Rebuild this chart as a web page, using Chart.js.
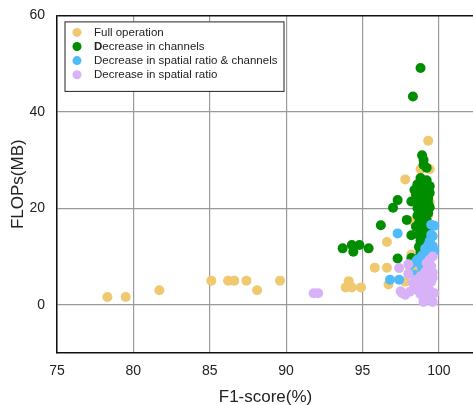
<!DOCTYPE html>
<html>
<head>
<meta charset="utf-8">
<script src="https://cdn.jsdelivr.net/npm/chart.js@4.4.1/dist/chart.umd.min.js"></script>
<style>
  html, body { margin: 0; padding: 0; background: #fff; overflow: hidden; }
  #wrap { width: 473px; height: 405px; position: relative; overflow: hidden; }
  #c { position: absolute; left: 0; top: -5px; }
</style>
</head>
<body>
<div id="wrap"><canvas id="c" width="479" height="413"></canvas></div>
<script>
// ---- data (x = F1-score %, y = FLOPs MB) ----
const seriesNames = ['Full operation', 'Decrease in channels', 'Decrease in spatial ratio & channels', 'Decrease in spatial ratio'];
const xTicks = [75, 80, 85, 90, 95, 100];
const yTicks = [0, 20, 40, 60];

const fullOperation = [
  [78.3,1.6],[79.5,1.6],[81.7,3.0],[85.1,5.0],[86.2,5.0],[86.6,5.0],[87.4,5.0],[88.1,3.0],[89.6,5.0],
  [94.1,4.9],[93.9,3.6],[94.3,3.6],[94.9,3.6],[95.8,7.7],[96.6,7.7],[96.6,13.0],[96.7,4.2],
  [97.8,26.0],[99.3,34.0],[98.8,28.1],[99.4,28.1],[99.4,21.2],[98.2,10.4],[97.8,4.8],[98.3,17.3],
  [98.4,7.5],[99.2,13.0],[99.0,21.0],[98.3,10.0],[98.1,7.8],[99.3,18.5]
];
const decreaseChannels = [
  [98.8,49.1],[98.3,43.2],[93.7,11.7],[94.3,12.4],[94.4,11.0],[94.8,12.4],[95.4,11.7],[96.2,16.5],
  [97.0,20.1],[97.3,21.7],[97.3,9.6],[97.9,17.6],[98.2,14.4],[98.2,9.7],[98.2,21.4],[98.4,23.8],
  [98.9,31.0],[99.0,30.0],[99.0,29.0],[99.2,28.4],[98.8,26.3],[99.1,25.6],[98.7,24.3],
  [98.6,25.0],[98.9,24.5],[99.2,24.0],[99.4,23.2],[98.7,23.0],[99.0,22.5],[99.3,22.0],[98.5,21.5],
  [98.8,21.0],[99.1,20.5],[99.4,20.2],[98.7,19.8],[99.0,19.3],[99.3,19.0],[98.6,18.5],[98.9,18.0],
  [99.2,17.5],[98.7,17.0],[99.0,16.5],[99.3,16.0],[98.8,15.5],[99.1,15.0],[98.7,14.5],[99.0,14.0],
  [98.8,13.2],[99.1,12.8],[98.7,12.0],[99.0,11.5],[98.8,11.0],[98.9,10.2],[98.7,9.8],[99.2,25.8],
  [99.3,21.0],[99.1,18.2],[98.6,20.0],[98.5,22.8],[99.4,24.6],[98.5,16.2]
];
const decreaseSpatialChannels = [
  [97.3,14.8],[96.8,5.2],[97.4,5.2],[99.5,16.6],[99.7,16.4],[99.5,14.5],[99.6,14.2],[99.3,12.4],
  [99.6,12.2],[99.7,11.2],[99.2,10.5],[98.9,10.2],[98.6,9.4],[98.5,8.9],[98.8,8.6],[98.1,8.2],
  [98.4,6.2],[98.6,5.5],[99.4,13.2],[99.1,11.6],[98.9,7.6],[99.0,9.2]
];
const decreaseSpatial = [
  [91.8,2.4],[92.1,2.4],[97.4,7.6],[98.0,8.4],[98.0,6.4],[97.6,2.4],[97.8,2.1],[98.1,2.7],[98.4,3.3],
  [98.6,3.0],[98.7,4.0],[98.9,4.7],[99.0,0.6],[99.6,0.6],[99.7,2.4],[99.6,10.0],[99.4,9.4],[99.5,8.0],
  [99.6,6.7],[99.3,5.8],[99.2,4.4],[99.4,3.0],[99.1,2.0],[98.8,2.2],[99.3,1.5],[99.5,4.8],[98.5,5.2],
  [98.8,5.9],[99.1,6.8],[99.3,7.6],[99.0,3.4],[98.3,4.5],[99.6,5.6],[99.2,8.6],[97.5,2.8],[99.0,0.9]
];

const colors = ['#F0C870', '#008E00', '#50BBFA', '#D8B2F8'];
const seriesData = [fullOperation, decreaseChannels, decreaseSpatialChannels, decreaseSpatial];

const toPts = arr => arr.map(p => ({x: p[0], y: p[1]}));

const legendPlugin = {
  id: 'boxLegend',
  afterDraw(chart) {
    const ctx = chart.ctx;
    const left = chart.chartArea.left + 7.5, top = chart.chartArea.top + 6;
    ctx.save();
    ctx.fillStyle = '#fff';
    ctx.fillRect(left, top, 219, 69.5);
    ctx.strokeStyle = '#222';
    ctx.lineWidth = 1;
    ctx.strokeRect(left + 0.5, top + 0.5, 219, 69.5);
    ctx.font = '11.5px "Liberation Sans", Arial, sans-serif';
    ctx.textBaseline = 'middle';
    seriesNames.forEach((name, i) => {
      const cy = top + 11 + i * 14.1;
      ctx.beginPath();
      ctx.fillStyle = colors[i];
      ctx.arc(left + 12.5, cy, 4.5, 0, Math.PI * 2);
      ctx.fill();
      ctx.fillStyle = '#222';
      let tx = left + 29.5;
      if (i === 1) {
        ctx.font = 'bold 11.5px "Liberation Sans", Arial, sans-serif';
        ctx.fillText('D', tx, cy);
        tx += ctx.measureText('D').width;
        ctx.font = '11.5px "Liberation Sans", Arial, sans-serif';
        ctx.fillText(name.slice(1), tx, cy);
      } else {
        ctx.fillText(name, tx, cy);
      }
    });
    ctx.restore();
  }
};

const order = [4, 3, 2, 1];
new Chart(document.getElementById('c'), {
  type: 'scatter',
  data: {
    datasets: seriesNames.map((name, i) => ({
      label: name,
      data: toPts(seriesData[i]),
      backgroundColor: colors[i],
      borderColor: colors[i],
      borderWidth: 0,
      pointRadius: 5,
      pointHoverRadius: 5,
      order: order[i]
    }))
  },
  options: {
    responsive: false,
    animation: false,
    events: [],
    layout: { padding: { top: 10, right: 0, left: 0, bottom: 0 } },
    plugins: { legend: { display: false }, tooltip: { enabled: false } },
    scales: {
      x: {
        type: 'linear',
        min: 75, max: 102.3,
        afterBuildTicks: s => { s.ticks = xTicks.map(v => ({value: v})); },
        afterFit: s => { s.height = 55; },
        grid: { color: '#9a9a9a', lineWidth: 1.2, drawTicks: false },
        border: { color: '#111', width: 1.5 },
        ticks: { color: '#222', padding: 10, font: { size: 14, family: '"Liberation Sans", Arial, sans-serif' }, maxRotation: 0 },
        title: { display: true, text: 'F1-score(%)', color: '#222', padding: { top: 9, bottom: 0 }, font: { size: 17, family: '"Liberation Sans", Arial, sans-serif' } }
      },
      y: {
        type: 'linear',
        min: -10, max: 60,
        afterBuildTicks: s => { s.ticks = yTicks.map(v => ({value: v})); },
        afterFit: s => { s.width = 57; },
        grid: { color: ctx => (ctx.tick && ctx.tick.value === 60) ? '#111' : '#9a9a9a', lineWidth: ctx => (ctx.tick && ctx.tick.value === 60) ? 1.5 : 1.2, drawTicks: false },
        border: { color: '#111', width: 1.5 },
        ticks: { color: '#222', padding: 12, font: { size: 14, family: '"Liberation Sans", Arial, sans-serif' } },
        title: { display: true, text: 'FLOPs(MB)', color: '#222', padding: { top: 8, bottom: 0 }, font: { size: 17, family: '"Liberation Sans", Arial, sans-serif' } }
      }
    }
  },
  plugins: [legendPlugin]
});
</script>
</body>
</html>
